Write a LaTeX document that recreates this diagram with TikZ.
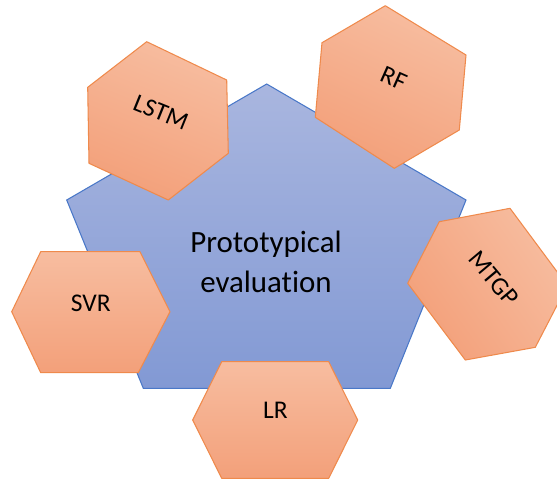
\documentclass[tikz,border=0pt]{standalone}
\usepackage{fontspec}
\setmainfont{Carlito}[Ligatures=NoCommon]
\usepackage{tikz}
\usetikzlibrary{backgrounds,calc}

\definecolor{hextop}{HTML}{F7BDA0}
\definecolor{hexbot}{HTML}{F3A07A}
\definecolor{hexline}{HTML}{EF8A4C}
\definecolor{pentop}{HTML}{A9B6DF}
\definecolor{penbot}{HTML}{8299D4}
\definecolor{penline}{HTML}{4A78C8}

\tikzset{
  hexbox/.style={draw=hexline,line width=0.6pt,line join=round,top color=hextop,bottom color=hexbot},
  pentbox/.style={draw=penline,line width=0.6pt,top color=pentop,bottom color=penbot},
  lbl/.style={font=\fontsize{14.5}{17}\selectfont,inner sep=0pt,anchor=base},
}

\begin{document}
\begin{tikzpicture}[x=0.02cm,y=-0.02cm]
\useasboundingbox (0,0) rectangle (557,481);
\clip (0,0) rectangle (557,481);
% pentagon
\path[pentbox] (266.7,84) -- (466,200) -- (390.3,388.3) -- (143.3,388.3) -- (66.7,200) -- cycle;
\node[font=\fontsize{17.6}{22.7}\selectfont,align=center,inner sep=0pt,anchor=base] (proto) at (266,292.7) {Prototypical\\evaluation};
% hexagons
\path[hexbox,shading angle=-22] (146.7,41.7) -- (226.7,80) -- (228.3,153.3) -- (168.3,200) -- (89,163.3) -- (87.7,87.3) -- cycle;
\node[lbl,rotate=-22] (lstm) at (157.8,120) {LSTM};
\path[hexbox,shading angle=-25] (385.3,5.7) -- (466,55) -- (459.3,130) -- (394.3,168.3) -- (315.3,117.3) -- (322,42.7) -- cycle;
\node[lbl,rotate=-24] (rf) at (390.4,86) {RF};
\path[hexbox,shading angle=-55] (510,208.3) -- (567.3,285.5) -- (535.3,347.3) -- (465.3,360) -- (407.7,283.3) -- (439.3,221.7) -- cycle;
\node[lbl,rotate=-50] (mtgp) at (487.5,284) {MTGP};
\path[hexbox] (40.7,251.7) -- (140,251.7) -- (170,311.7) -- (138.3,372.7) -- (40.7,372.7) -- (11.7,311.7) -- cycle;
\node[lbl] (svr) at (90.8,311.7) {SVR};
\path[hexbox] (221.7,361.7) -- (328.7,361.7) -- (357.7,420) -- (328.7,478.3) -- (221.7,478.3) -- (192.7,420) -- cycle;
\node[lbl] (lr) at (275.5,418.5) {LR};
\end{tikzpicture}
\end{document}
